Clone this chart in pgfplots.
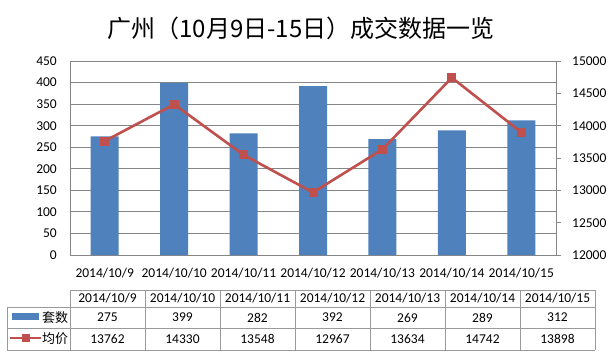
\documentclass[border=0pt]{standalone}
\usepackage{pgfplots}
\pgfplotsset{compat=1.18}
\usepackage{fontspec}
\setmainfont{Carlito}
\newfontfamily\cjk{Noto Sans CJK SC}
\definecolor{barblue}{HTML}{4F81BD}
\definecolor{linered}{HTML}{C0504D}
\definecolor{gridgray}{HTML}{868686}
\definecolor{tablegray}{HTML}{9A9A9A}
\newcommand{\lbl}{\fontsize{13.5bp}{15bp}\selectfont}
\begin{document}
\begin{tikzpicture}[x=1bp,y=1bp]
\path[fill=white] (0,0) rectangle (609,361);
\node[font=\cjk\fontsize{24bp}{27bp}\selectfont] at (301,332.5) {广州（10月9日-15日）成交数据一览};
\begin{axis}[
  at={(70bp,106bp)}, anchor=south west,
  scale only axis, width=486bp, height=194bp,
  xmin=-0.5, xmax=6.5, ymin=0, ymax=450,
  ytick={0,50,...,450},
  xtick={0,...,6},
  xticklabels={2014/10/9,2014/10/10,2014/10/11,2014/10/12,2014/10/13,2014/10/14,2014/10/15},
  ymajorgrids, grid style={gridgray, line width=0.8bp},
  axis line style={gridgray, line width=0.8bp},
  axis x line*=bottom, axis y line*=left,
  major tick length=0pt,
  /pgf/number format/assume math mode=true,
  tick label style={font=\lbl, inner sep=0pt},
  yticklabel style={anchor=east, xshift=-13bp},
  xticklabel style={anchor=center, yshift=-18bp},
]
\addplot[ybar, bar width=28bp, fill=barblue, draw=none] coordinates {
(0,275) (1,399) (2,282) (3,392) (4,269) (5,289) (6,312)};
\end{axis}
\begin{axis}[
  at={(70bp,106bp)}, anchor=south west,
  scale only axis, width=486bp, height=194bp,
  xmin=-0.5, xmax=6.5, ymin=12000, ymax=15000,
  axis x line=none, axis y line*=right,
  ytick={12000,12500,...,15000},
  axis line style={gridgray, line width=0.8bp},
  tick style={gridgray, line width=0.8bp},
  major tick length=5bp, tick align=outside,
  /pgf/number format/assume math mode=true,
  /pgf/number format/1000 sep={},
  scaled y ticks=false,
  tick label style={font=\lbl, inner sep=0pt},
  yticklabel style={anchor=west, xshift=11bp},
]
\addplot[linered, line width=2.6bp, mark=square*, mark size=4bp, mark options={fill=linered, draw=linered, line width=0pt}] coordinates {
(0,13762) (1,14330) (2,13548) (3,12967) (4,13634) (5,14742) (6,13898)};
\end{axis}
% data table
\begin{scope}[tablegray, line width=0.8bp]
\draw (70,71) -- (595,71);
\draw (7,54) -- (595,54);
\draw (7,33) -- (595,33);
\draw (7,11) -- (595,11);
\draw (7,11) -- (7,54);
\foreach \i in {0,...,7} {\draw ({70+75*\i},11) -- ({70+75*\i},71);}
\end{scope}
\fill[barblue] (12,41) rectangle (39,48);
\draw[linered, line width=2.6bp] (10,23) -- (41,23);
\fill[linered] (21.5,19) rectangle (29.5,27);
\node[font=\cjk\fontsize{13bp}{14bp}\selectfont, inner sep=0pt] at (55,43.5) {套数};
\node[font=\cjk\fontsize{13bp}{14bp}\selectfont, inner sep=0pt] at (55,22) {均价};
\foreach \d [count=\i from 0] in {2014/10/9,2014/10/10,2014/10/11,2014/10/12,2014/10/13,2014/10/14,2014/10/15} {
  \node[font=\lbl, inner sep=0pt] at ({107.5+75*\i},62.5) {\d};
}
\foreach \v [count=\i from 0] in {275,399,282,392,269,289,312} {
  \node[font=\lbl, inner sep=0pt] at ({107.5+75*\i},43.5) {\v};
}
\foreach \v [count=\i from 0] in {13762,14330,13548,12967,13634,14742,13898} {
  \node[font=\lbl, inner sep=0pt] at ({107.5+75*\i},22) {\v};
}
\end{tikzpicture}
\end{document}
